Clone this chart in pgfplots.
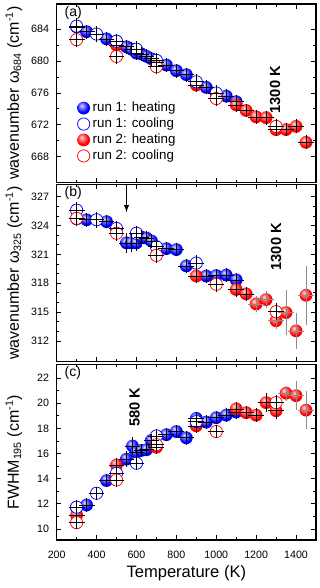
\documentclass[border=0pt]{standalone}
\usepackage{fontspec}
\setmainfont{Liberation Sans}
\usepackage{pgfplots}
\pgfplotsset{compat=1.18}
\usepackage{pgfplotstable}

\pgfdeclareradialshading{bballshade}{\pgfpoint{-9bp}{11bp}}{color(0bp)=(white!85!blue); color(9bp)=(blue!50!white); color(22bp)=(blue); color(40bp)=(blue!90!black); color(50bp)=(blue!72!black)}
\pgfdeclareradialshading{rballshade}{\pgfpoint{-9bp}{11bp}}{color(0bp)=(white!85!red); color(9bp)=(red!50!white); color(22bp)=(red); color(40bp)=(red!92!black); color(50bp)=(red!75!black)}
\pgfdeclareplotmark{bball}{\pgfpathcircle{\pgfpointorigin}{\pgfplotmarksize}\pgfshadepath{bballshade}{0}\pgfusepath{}}
\pgfdeclareplotmark{rball}{\pgfpathcircle{\pgfpointorigin}{\pgfplotmarksize}\pgfshadepath{rballshade}{0}\pgfusepath{}}
\pgfdeclareplotmark{nothing}{}

% ---------------- panel (a) ----------------
\pgfplotstableread{
x y ey
300 684.3 0.5
350 683.7 0.5
450 682.8 0.5
550 681.8 0.5
575 681.5 0.5
600 681.0 0.5
625 680.9 0.5
650 680.6 0.5
675 680.3 0.5
700 679.9 0.5
750 679.5 0.5
800 678.8 0.5
850 678.3 0.5
950 676.7 0.5
1050 675.6 0.5
1100 674.9 0.5
}\aBH
\pgfplotstableread{
x y ey
300 684.4 0.6
400 683.4 0.6
500 682.5 0.6
600 681.5 0.6
700 680.1 0.6
900 677.4 0.6
1000 676.0 0.6
}\aBC
\pgfplotstableread{
x y ey
500 682.0 0.5
900 677.0 0.5
1100 674.5 0.5
1150 673.8 0.5
1200 673.0 0.5
1250 672.9 0.5
1300 671.4 0.5
1350 671.4 0.5
1400 671.8 0.5
1450 669.8 0.5
}\aRH
\pgfplotstableread{
x y ey
300 682.7 0.6
500 680.6 0.6
700 679.3 0.6
1000 675.3 0.6
1300 671.8 0.6
}\aRC
% ---------------- panel (b) ----------------
\pgfplotstableread{
x y ey
300 324.7 0.4
350 324.6 0.4
450 324.4 0.4
550 322.2 0.7
575 322.2 0.6
600 322.2 0.5
625 322.8 0.4
650 322.7 0.4
675 322.4 0.4
750 321.6 0.4
800 321.5 0.4
850 319.8 0.4
950 318.75 0.4
1000 318.8 0.4
1050 318.85 0.4
1100 318.35 0.4
}\bBH
\pgfplotstableread{
x y ey
300 325.6 0.5
400 324.6 0.5
500 323.7 0.5
600 323.2 0.5
700 321.8 0.5
900 320.1 0.5
}\bBC
\pgfplotstableread{
x y ey
900 318.75 0.4
1100 317.35 0.5
1150 316.9 0.4
}\bRHa
\pgfplotstableread{
x y ey
1200 315.85 0.55
1250 316.3 0.6
1300 314.1 0.6
1350 314.95 2.05
1400 313.05 1.55
1450 316.75 2.75
}\bRHb
\pgfplotstableread{
x y ey
300 324.75 0.5
500 323.2 0.5
700 320.9 0.5
1000 317.9 0.5
1300 315.05 0.6
}\bRC
% ---------------- panel (c) ----------------
\pgfplotstableread{
x y ey
300 11.7 0.3
350 11.9 0.3
450 13.85 0.3
550 15.55 0.4
580 16.6 0.45
600 16.1 0.3
625 16.25 0.3
650 16.3 0.3
675 17.05 0.3
750 17.5 0.3
800 17.75 0.3
850 17.25 0.3
900 18.8 0.3
950 18.5 0.3
1000 18.85 0.3
1050 19.05 0.3
1100 19.3 0.3
}\cBH
\pgfplotstableread{
x y ey
300 11.73 0.3
400 12.84 0.3
500 14.43 0.3
600 15.23 0.3
700 17.4 0.3
900 18.54 0.3
}\cBC
\pgfplotstableread{
x y ey
300 11.1 0.3
500 15.09 0.3
700 16.5 0.3
900 18.2 0.3
1100 19.55 0.3
1150 19.25 0.3
1200 19.05 0.3
1250 20.05 0.55
1300 19.4 0.45
}\cRHa
\pgfplotstableread{
x y ey
1350 20.8 0.35
1400 20.6 0.9
1450 19.45 1.3
}\cRHb
\pgfplotstableread{
x y ey
300 10.5 0.3
500 13.9 0.3
700 16.7 0.3
1000 17.75 0.3
1300 20.05 0.4
}\cRC

\tikzset{
  lab/.style={font=\fontsize{10.5}{12}\selectfont, anchor=north west, inner sep=0pt},
  ann/.style={font=\bfseries\fontsize{11}{13}\selectfont, rotate=90},
}
\pgfplotsset{
  panel/.style={
    width=194.5pt, scale only axis,
    xmin=200, xmax=1500,
    xtick={200,400,...,1400}, minor x tick num=1,
    tick align=inside, major tick length=3.5pt, minor tick length=2pt,
    axis line style={line width=0.8pt},
    every tick/.style={black, line width=0.6pt},
    tick label style={font=\fontsize{8}{9.6}\selectfont},
    /pgf/number format/assume math mode=true,
    /pgf/number format/1000 sep={},
    yticklabel style={xshift=-2.2pt},
    xticklabel style={yshift=-4.5pt},
    ylabel style={at={(axis description cs:-0.165,0.5)}, anchor=center, font=\fontsize{12}{14}\selectfont},
    xlabel style={at={(axis description cs:0.5,-0.188)}, anchor=center, font=\fontsize{12.4}{14}\selectfont},
    clip=false, clip marker paths=true,
  },
  bh/.style={only marks, mark=bball, mark size=4.8pt, forget plot},
  rh/.style={only marks, mark=rball, mark size=4.8pt, forget plot},
  bc/.style={only marks, mark=*, mark size=4.6pt, mark options={draw=blue, fill=white, line width=0.55pt}, forget plot},
  rc/.style={only marks, mark=*, mark size=4.6pt, mark options={draw=red, fill=white, line width=0.55pt}, forget plot},
  eb/.style={#1, only marks, mark=nothing, forget plot,
    error bars/.cd, x dir=both, x fixed=25, y dir=both, y explicit,
    error bar style={#1, line width=0.5pt},
    error mark options={#1, mark size=2.2pt, line width=0.5pt}},
  eb/.default=black,
}

\begin{document}
\begin{tikzpicture}
\path[use as bounding box] (-42.5pt,3pt) rectangle (197.5pt,-438pt);

% ===== (a) =====
\begin{axis}[panel, at={(0pt,0pt)}, anchor=north west, height=133.7pt,
  ymin=664.78, ymax=687.18, ytick={668,672,...,684}, minor y tick num=1,
  xticklabels={},
  ylabel={wavenumber ω\textsubscript{684} (cm\textsuperscript{-1})},
  legend style={at={(rel axis cs:0.063,0.48)}, anchor=north west, draw=none, fill=none,
    font=\fontsize{10}{12}\selectfont, row sep=-0.8pt},
  legend cell align=left]
\addlegendimage{only marks, mark=bball, mark size=4.8pt}
\addlegendentry{run 1: heating}
\addlegendimage{only marks, mark=*, mark size=4.6pt, mark options={draw=blue, fill=white, line width=0.55pt}}
\addlegendentry{run 1: cooling}
\addlegendimage{only marks, mark=rball, mark size=4.8pt}
\addlegendentry{run 2: heating}
\addlegendimage{only marks, mark=*, mark size=4.6pt, mark options={draw=red, fill=white, line width=0.55pt}}
\addlegendentry{run 2: cooling}
\addplot[bh] table[x=x,y=y] {\aBH};
\addplot[rh] table[x=x,y=y] {\aRH};
\addplot[bc] table[x=x,y=y] {\aBC};
\addplot[rc] table[x=x,y=y] {\aRC};
\addplot[eb] table[x=x,y=y,y error=ey] {\aBH};
\addplot[eb] table[x=x,y=y,y error=ey] {\aRH};
\addplot[eb] table[x=x,y=y,y error=ey] {\aBC};
\addplot[eb] table[x=x,y=y,y error=ey] {\aRC};
\node[lab] at (rel axis cs:0.03,0.99) {(a)};
\node[ann] at (axis cs:1295,676.4) {1300 K};
\end{axis}

% ===== (b) =====
\begin{axis}[panel, at={(0pt,-135.5pt)}, anchor=north west, height=132.75pt,
  ymin=309.85, ymax=328.25, ytick={312,315,...,327}, minor y tick num=2,
  xticklabels={},
  ylabel={wavenumber ω\textsubscript{325} (cm\textsuperscript{-1})}]
\addplot[bh] table[x=x,y=y] {\bBH};
\addplot[rh] table[x=x,y=y] {\bRHa};
\addplot[rh] table[x=x,y=y] {\bRHb};
\addplot[bc] table[x=x,y=y] {\bBC};
\addplot[rc] table[x=x,y=y] {\bRC};
\addplot[eb] table[x=x,y=y,y error=ey] {\bBH};
\addplot[eb] table[x=x,y=y,y error=ey] {\bRHa};
\addplot[eb=black!45] table[x=x,y=y,y error=ey] {\bRHb};
\addplot[eb] table[x=x,y=y,y error=ey] {\bBC};
\addplot[eb] table[x=x,y=y,y error=ey] {\bRC};
\node[lab] at (rel axis cs:0.03,0.99) {(b)};
\node[ann] at (axis cs:1300,321.8) {1300 K};
\draw[-latex, line width=0.8pt] (axis cs:550,328.25) -- (axis cs:550,325.4);
\end{axis}

% ===== (c) =====
\begin{axis}[panel, at={(0pt,-270.5pt)}, anchor=north west, height=131.5pt,
  ymin=9.12, ymax=23.07, ytick={10,12,...,22}, minor y tick num=1,
  xlabel={Temperature (K)},
  ylabel={FWHM\textsubscript{195} (cm\textsuperscript{-1})}]
\addplot[bh] table[x=x,y=y] {\cBH};
\addplot[rh] table[x=x,y=y] {\cRHa};
\addplot[rh] table[x=x,y=y] {\cRHb};
\addplot[bc] table[x=x,y=y] {\cBC};
\addplot[rc] table[x=x,y=y] {\cRC};
\addplot[eb] table[x=x,y=y,y error=ey] {\cBH};
\addplot[eb] table[x=x,y=y,y error=ey] {\cRHa};
\addplot[eb=black!45] table[x=x,y=y,y error=ey] {\cRHb};
\addplot[eb] table[x=x,y=y,y error=ey] {\cBC};
\addplot[eb] table[x=x,y=y,y error=ey] {\cRC};
\node[lab] at (rel axis cs:0.03,0.99) {(c)};
\node[ann] at (axis cs:590,19.7) {580 K};
\end{axis}
\end{tikzpicture}
\end{document}
